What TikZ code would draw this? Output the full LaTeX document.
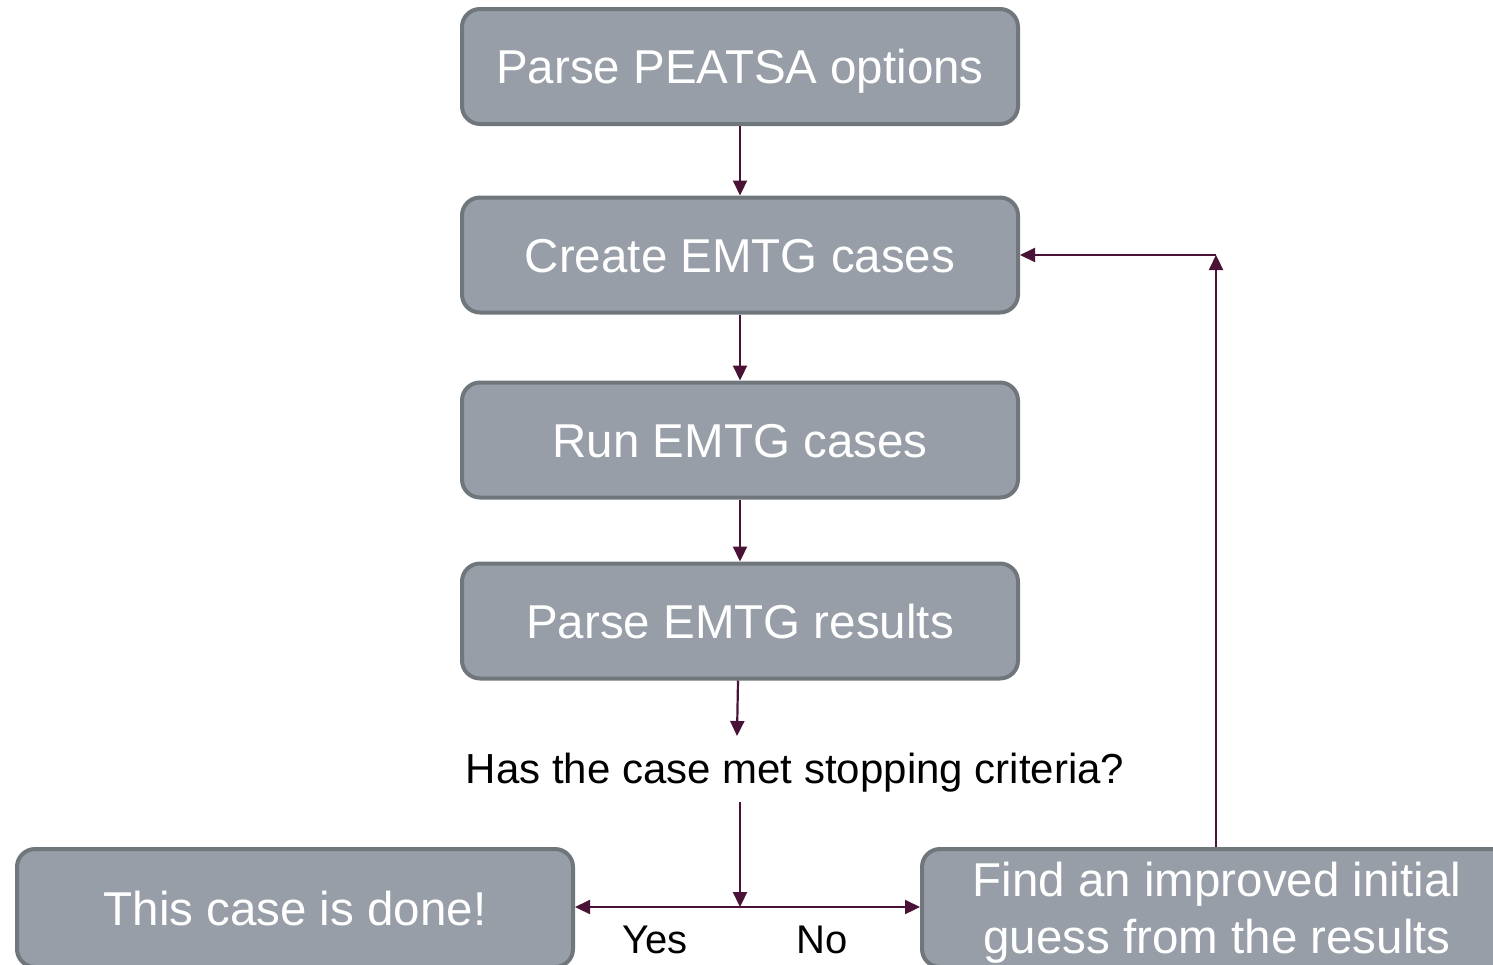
\documentclass[tikz,border=0pt]{standalone}
\usepackage{fontspec}
\setmainfont{Liberation Sans}
\usetikzlibrary{arrows.meta}
\definecolor{boxfill}{HTML}{979EA7}
\definecolor{boxline}{HTML}{6F767C}
\definecolor{arrowc}{HTML}{4A1236}
\tikzset{
  stepbox/.style={draw=boxline, fill=boxfill, line width=4pt, rounded corners=18pt,
    inner sep=0pt, text=white, font=\fontsize{47.5}{57}\selectfont, align=center,
    text height=34pt, text depth=0pt},
  conn/.style={draw=arrowc, line width=2.2pt, -{Triangle[length=15pt,width=14pt]}},
  qlabel/.style={text=black, font=\fontsize{42}{50}\selectfont, inner sep=0pt},
  ynlabel/.style={text=black, font=\fontsize{40}{48}\selectfont, inner sep=0pt}
}
\begin{document}
\begin{tikzpicture}[x=1pt,y=-1pt]
\useasboundingbox (0,0) rectangle (1493,964);
\clip (0,0) rectangle (1493,964);
\node[stepbox, minimum width=556pt, minimum height=115pt] (b1) at (740,66.5) {Parse PEATSA options};
\node[stepbox, minimum width=556pt, minimum height=115pt] (b2) at (740,255) {Create EMTG cases};
\node[stepbox, minimum width=556pt, minimum height=115pt] (b3) at (740,440) {Run EMTG cases};
\node[stepbox, minimum width=556pt, minimum height=115pt] (b4) at (740,621) {Parse EMTG results};
\node[qlabel] (q) at (795,773) {Has the case met stopping criteria?};
\node[stepbox, minimum width=556pt, minimum height=118pt] (done) at (295,908) {This case is done!};
\node[stepbox, minimum width=590pt, minimum height=118pt, text height=90pt] (find) at (1217,908) {Find an improved initial\\guess from the results};
\node[ynlabel] (yes) at (655,940) {Yes};
\node[ynlabel] (no) at (822,940) {No};
\coordinate (qin) at (737,736);
\coordinate (qout) at (740,802);
\coordinate (junc) at (740,907);
\coordinate (corner) at (1216,255);
\draw[conn] (b1.south) -- (b2.north);
\draw[conn] (b2.south) -- (b3.north);
\draw[conn] (b3.south) -- (b4.north);
\draw[conn] (b4.south -| 738,0) -- (qin);
\draw[conn] (qout) -- (junc);
\draw[conn] (junc) -- (done.east |- junc);
\draw[conn] (junc) -- (find.west |- junc);
\draw[conn] (find.north -| corner) -- (corner);
\draw[conn] (corner) -- (b2.east);
\end{tikzpicture}
\end{document}
